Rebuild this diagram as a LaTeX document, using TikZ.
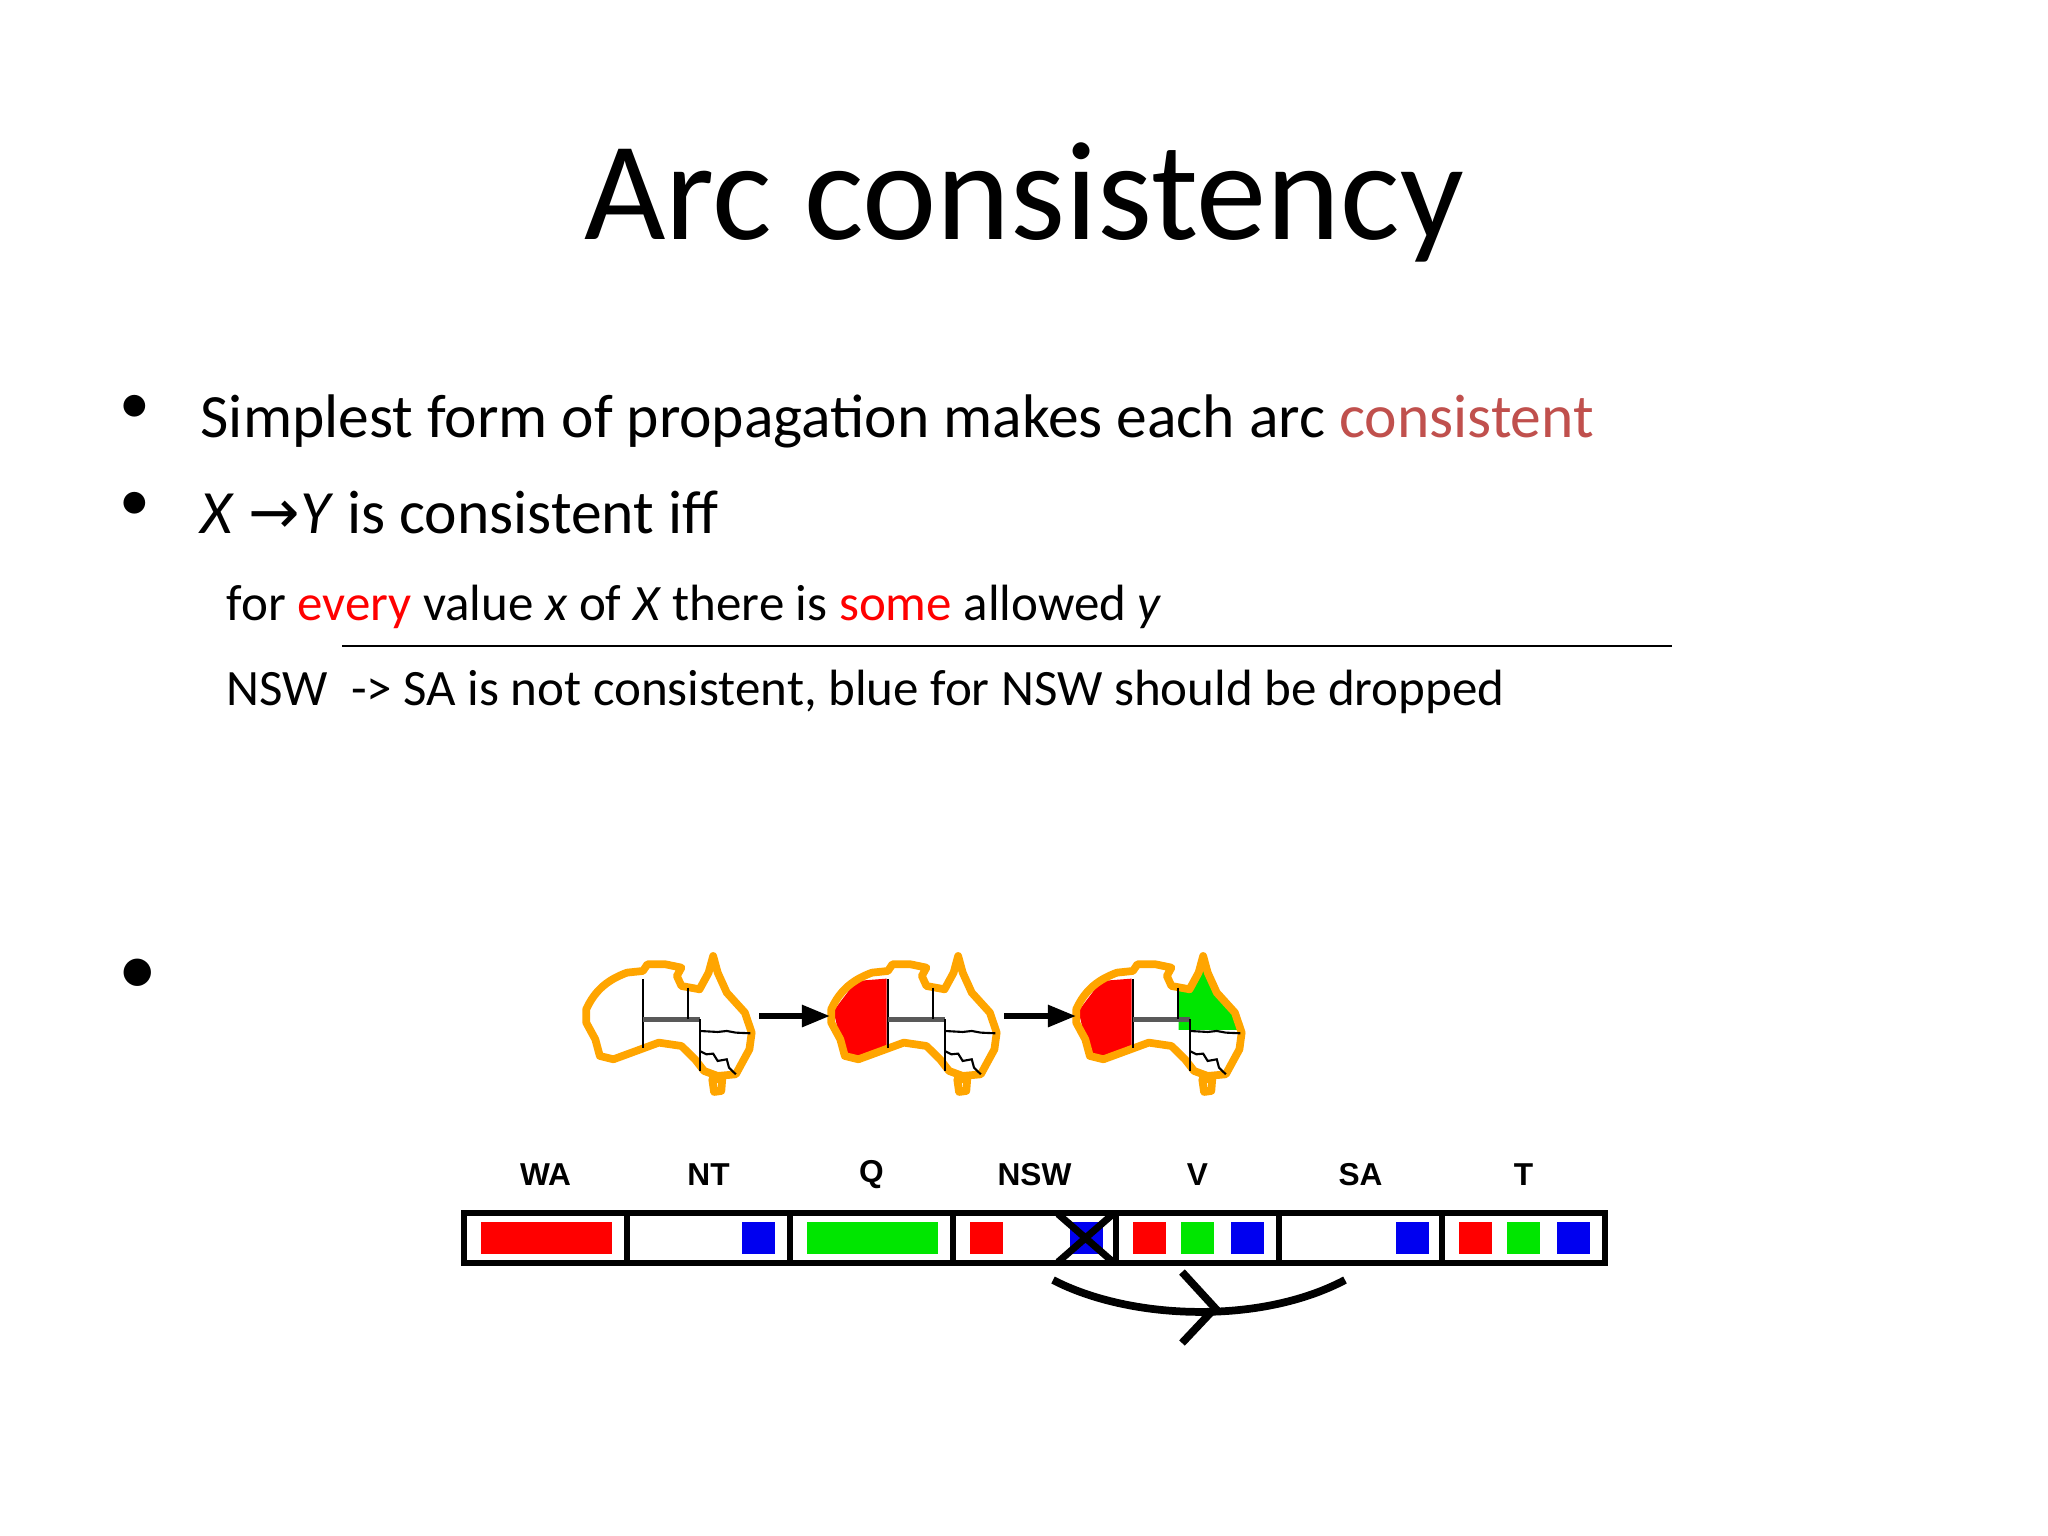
\documentclass[tikz,border=0pt]{standalone}
\usepackage{fontspec}
\setmainfont{Carlito}
\newfontfamily\lab{Liberation Sans}
\newfontfamily\dv{DejaVu Sans}
\usetikzlibrary{arrows.meta}
\definecolor{ausor}{RGB}{255,165,0}
\definecolor{cons}{RGB}{192,80,77}
\definecolor{gr}{RGB}{0,230,0}
\definecolor{bl}{RGB}{0,0,240}
\tikzset{
 body/.style={anchor=base west,inner sep=0pt,font=\fontsize{17.5}{20}\selectfont},
 sub/.style={anchor=base west,inner sep=0pt,font=\fontsize{14.5}{17}\selectfont},
 lbl/.style={inner sep=0pt,font=\lab\bfseries\fontsize{9}{10}\selectfont},
 sq/.style={draw=none},
 border/.style={line width=0.6pt},
 cell/.style={draw,line width=1.5pt},
 ausl/.style={draw=ausor,line width=2.2pt,line join=round},
}
\newcommand{\ausmap}[3]{%
\begin{scope}[shift={(#1-15.9,#2-16.7)},xscale=0.4533,yscale=0.3333]
 \ifnum#3>0
 \fill[red] (45,215)--(95,125)--(162,118)--(162,322)--(100,352)--(70,342)--(58,290)--cycle;
 \fi
 \ifnum#3>1
 \fill[gr] (266,148)--(292,150)--(312,95)--(322,62)--(332,105)--(352,160)--(390,222)--(400,272)--(266,272)--cycle;
 \fi
 \draw[ausl] (40,210)..controls (60,150) and (90,120)..(130,100)--(165,95)--(175,75)--(215,75)--(250,85)--(240,110)--(250,140)--(290,150)--(310,100)--(320,50)--(330,100)--(350,160)--(390,220)--(405,280)--(400,330)--(380,380)--(370,405)--(330,410)--(300,395)--(280,360)--(250,320)--(200,310)--(160,330)--(100,360)--(70,350)--(60,300)--(40,250)--cycle;
 \draw[ausl] (318,420)--(340,420)--(338,455)--(322,458)--cycle;
 \draw[border] (165,120)--(165,325);
 \draw[border,line width=1.4pt,gray!70!black] (165,240)--(290,240);
 \draw[border] (265,145)--(265,240);
 \draw[border] (290,240)--(290,395);
 \draw[border] (290,275)--(330,278)--(350,275)--(370,280)--(402,282);
 \draw[border] (290,335)--(305,345)--(320,343)--(330,365)--(350,360)--(355,385)--(370,405);
\end{scope}}
\begin{document}
\begin{tikzpicture}[x=0.01cm,y=-0.01cm]
\useasboundingbox[fill=white] (0,0) rectangle (2048,1536);
\node[inner sep=0pt,font=\fontsize{40}{46}\selectfont] (title) at (1024,202) {Arc consistency};
\node[body] (b1) at (200,437) {Simplest form of propagation makes each arc \textcolor{cons}{consistent}};
\node[body] (b2) at (200,533) {\textit{X} {\dv→}\textit{Y} is consistent iff};
\node[sub] (s1) at (226,620) {for \textcolor{red}{every} value \textit{x} of \textit{X} there is \textcolor{red}{some} allowed \textit{y}};
\node[sub] (s2) at (226,705) {NSW\ \ -> SA is not consistent, blue for NSW should be dropped};
\node[body,anchor=center] (d1) at (135,409) {•};
\node[body,anchor=center] (d2) at (135,506) {•};
\node[body,anchor=center,font=\fontsize{22}{24}\selectfont] (d3) at (138,977) {•};
\coordinate (hl1) at (342,646); \coordinate (hl2) at (1672,646);
\draw[line width=0.6pt] (hl1)--(hl2);
% maps
\ausmap{584}{956}{0}
\ausmap{829}{956}{1}
\ausmap{1074}{956}{2}
\coordinate (a1s) at (759,1016); \coordinate (a1e) at (830,1016);
\coordinate (a2s) at (1004,1016); \coordinate (a2e) at (1076,1016);
\draw[line width=1.6pt,-{Triangle[length=8pt,width=6pt]}] (a1s)--(a1e);
\draw[line width=1.6pt,-{Triangle[length=8pt,width=6pt]}] (a2s)--(a2e);
% domain bar
\foreach \i/\n in {0/WA,1/NT,2/Q,3/NSW,4/V,5/SA,6/T}{
 \node[lbl] (l\i) at (464+163*\i+81.5,1175) {\n};
 \draw[cell] (464+163*\i,1213) rectangle (464+163*\i+163,1263);
}
\def\sqy{1222}\def\sqh{32}
\fill[red] (481,\sqy) rectangle ++(131,\sqh);
\fill[bl] (627+115-163+163,\sqy) rectangle ++(33,\sqh);
\fill[gr] (807,\sqy) rectangle ++(131,\sqh);
\fill[red] (970,\sqy) rectangle ++(33,\sqh);
\fill[bl] (1070,\sqy) rectangle ++(33,\sqh);
\fill[red] (1133,\sqy) rectangle ++(33,\sqh);
\fill[gr] (1181,\sqy) rectangle ++(33,\sqh);
\fill[bl] (1231,\sqy) rectangle ++(33,\sqh);
\fill[bl] (1396,\sqy) rectangle ++(33,\sqh);
\fill[red] (1459,\sqy) rectangle ++(33,\sqh);
\fill[gr] (1507,\sqy) rectangle ++(33,\sqh);
\fill[bl] (1557,\sqy) rectangle ++(33,\sqh);
\foreach \i in {0,...,6}{\draw[cell] (464+163*\i,1213) rectangle (464+163*\i+163,1263);}
\coordinate (x1) at (1058,1214); \coordinate (x2) at (1113,1262);
\coordinate (x3) at (1113,1214); \coordinate (x4) at (1058,1262);
\draw[line width=2pt] (x1)--(x2) (x3)--(x4);
% arc
\coordinate (c1) at (1053,1280); \coordinate (c2) at (1345,1280);
\draw[line width=2.2pt] (c1) .. controls (1130,1320) and (1260,1325) .. (c2);
\coordinate (h1) at (1182,1272); \coordinate (h2) at (1215,1308); \coordinate (h3) at (1182,1343);
\draw[line width=2.2pt] (h1)--(h2)--(h3);
\end{tikzpicture}
\end{document}
